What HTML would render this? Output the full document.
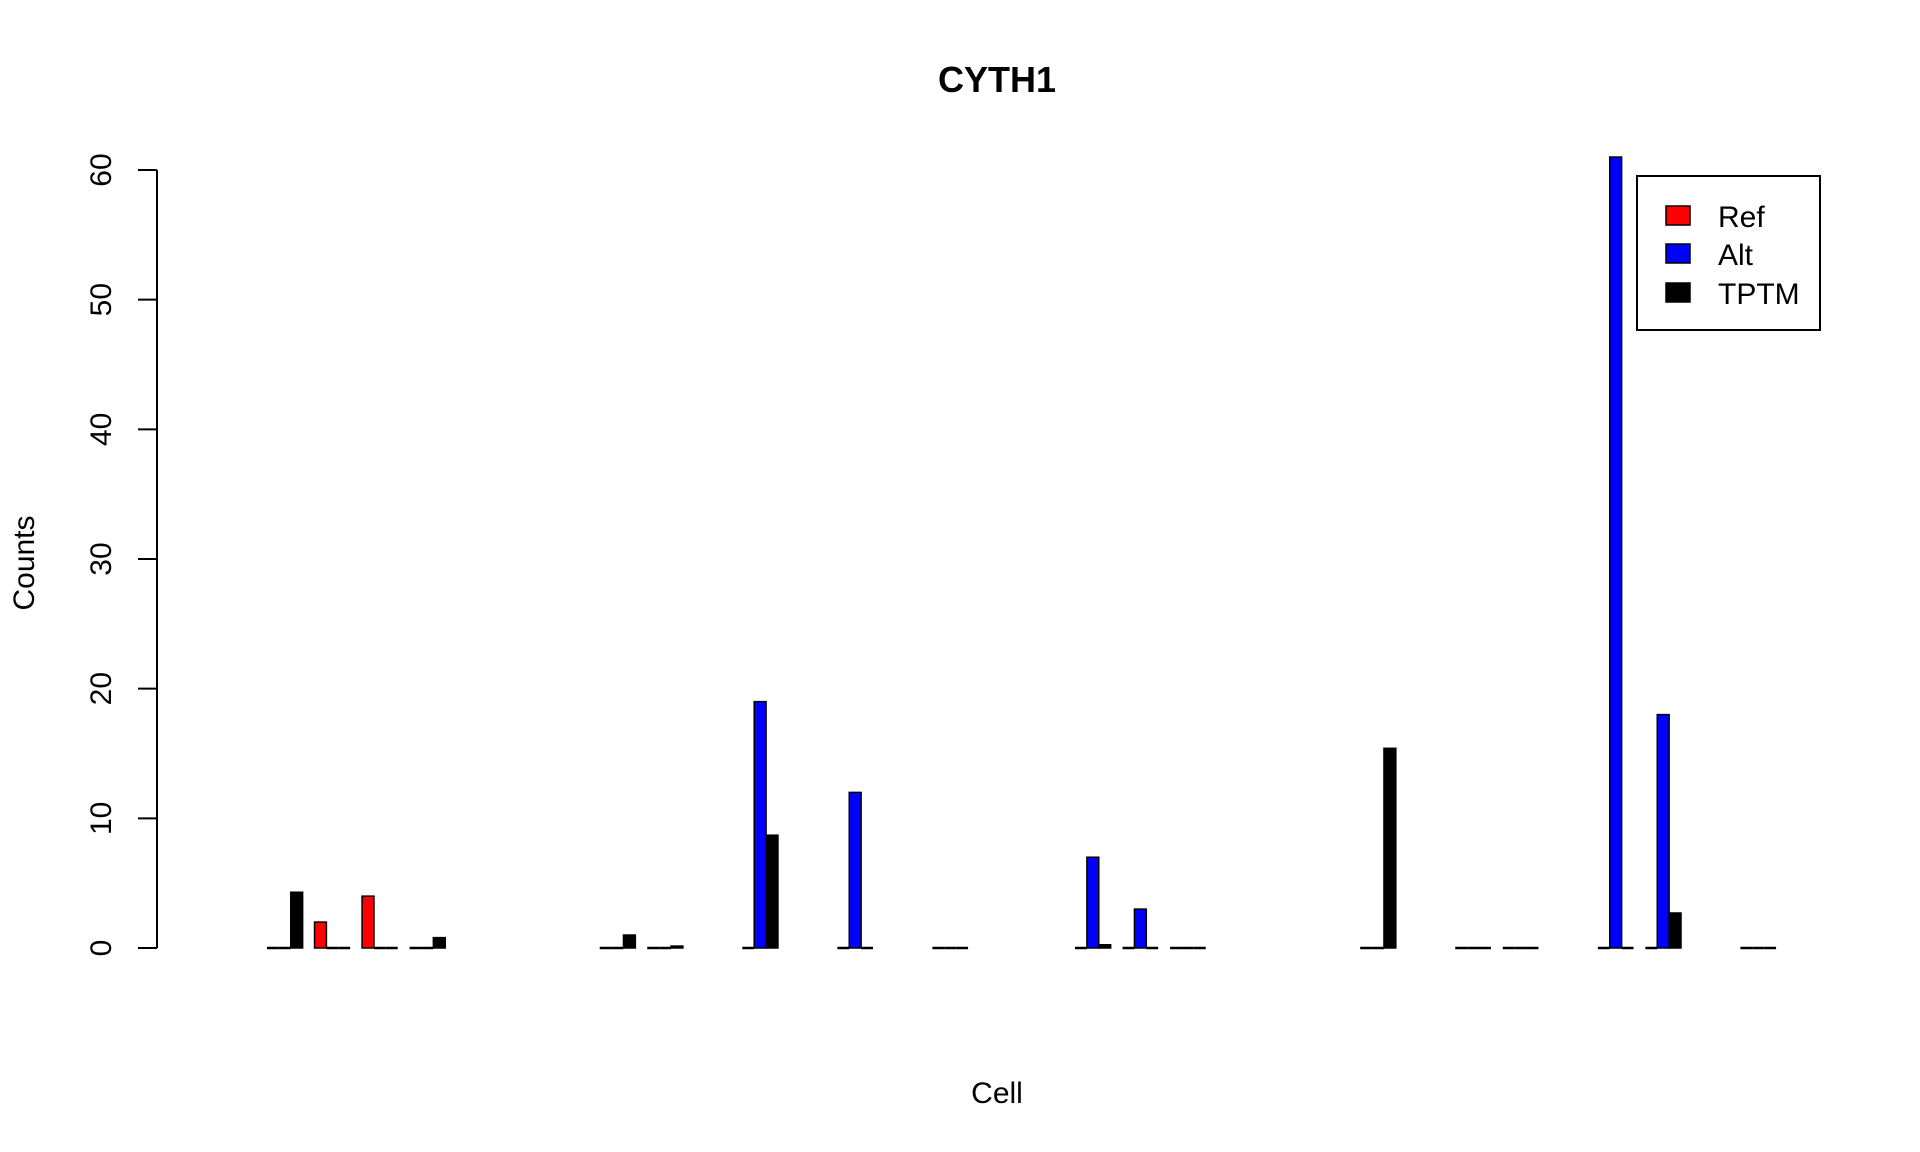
<!DOCTYPE html>
<html><head><meta charset="utf-8"><style>
html,body{margin:0;padding:0;background:#fff;}
svg{display:block;font-family:"Liberation Sans",Arial,sans-serif;}
</style></head><body>
<svg id="chart" width="1920" height="1152" viewBox="0 0 1920 1152">
<text x="997" y="92" text-anchor="middle" font-size="36" font-weight="bold">CYTH1</text>
<text x="997" y="1115" text-anchor="middle" font-size="30" transform="translate(0,-12)">Cell</text>
<text transform="translate(34,563) rotate(-90)" text-anchor="middle" font-size="30">Counts</text>
<g id="yaxis"></g>
<g id="bars"></g>
<g>
<rect x="1637" y="176" width="183" height="154" fill="#fff" stroke="#000" stroke-width="2"/>
<g><rect x="1666" y="206" width="24" height="19" fill="#ff0000" stroke="#000" stroke-width="1.5"/><text x="1718" y="227" font-size="30">Ref</text></g>
<g><rect x="1666" y="244" width="24" height="19" fill="#0000ff" stroke="#000" stroke-width="1.5"/><text x="1718" y="265" font-size="30">Alt</text></g>
<g><rect x="1666" y="283" width="24" height="19" fill="#000" stroke="#000" stroke-width="1.5"/><text x="1718" y="304" font-size="30">TPTM</text></g>
</g>
</svg>
<script>
const cellIndex = [0,1,2,3,7,8,10,12,14,17,18,19,23,25,26,28,29,31];
const refVals  = [0,2,4,0,0,0,0,0,0,0,0,0,0,0,0,0,0,0];
const altVals  = [0,0,0,0,0,0,19,12,0,7,3,0,0,0,0,61,18,0];
const tptmVals = [4.3,0,0,0.8,1.0,0.15,8.7,0,0,0.25,0,0,15.4,0.05,0,0,2.7,0];
const yTicks = [0,10,20,30,40,50,60];
const seriesColors = ["#ff0000","#0000ff","#000000"];
const seriesNames = ["ref","alt","tptm"];

const NS="http://www.w3.org/2000/svg";
const y0px=948, yPerUnit=(948-170)/60;
function yScale(v){return y0px - v*yPerUnit;}
const groupStart0=267, pitch=47.53, barW=pitch/4;
function xScale(i){return groupStart0 + i*pitch;}

const ya=document.getElementById('yaxis');
function mk(tag,attrs,parent){const e=document.createElementNS(NS,tag);for(const k in attrs)e.setAttribute(k,attrs[k]);parent.appendChild(e);return e;}
const axisLine=mk('line',{x1:157,x2:157,y1:yScale(yTicks[0]),y2:yScale(yTicks[yTicks.length-1]),stroke:'#000','stroke-width':2},ya);


yTicks.forEach(t=>{
  const y=yScale(t);
  const tk=mk('line',{x1:138,x2:157,y1:y,y2:y,stroke:'#000','stroke-width':2},ya);
  
  
  const lb=mk('text',{transform:`translate(111,${y}) rotate(-90)`,'text-anchor':'middle','font-size':30},ya);
  lb.textContent=String(t);
  
  
});
const bg=document.getElementById('bars');
const series=[refVals,altVals,tptmVals];
cellIndex.forEach((ci,k)=>{
  series.forEach((arr,s)=>{
    const v=arr[k];
    const x=xScale(ci)+s*barW;
    const top=yScale(v);
    const h=y0px-top;
    if(h<1){
      const ln=mk('line',{x1:x,x2:x+barW,y1:y0px,y2:y0px,stroke:'#000','stroke-width':2.5},bg);
      
      
    } else {
      const r=mk('rect',{x:x,y:top,width:barW,height:h,fill:seriesColors[s],stroke:'#000','stroke-width':1.5},bg);
      
      
    }
  });
});
</script>
</body></html>
